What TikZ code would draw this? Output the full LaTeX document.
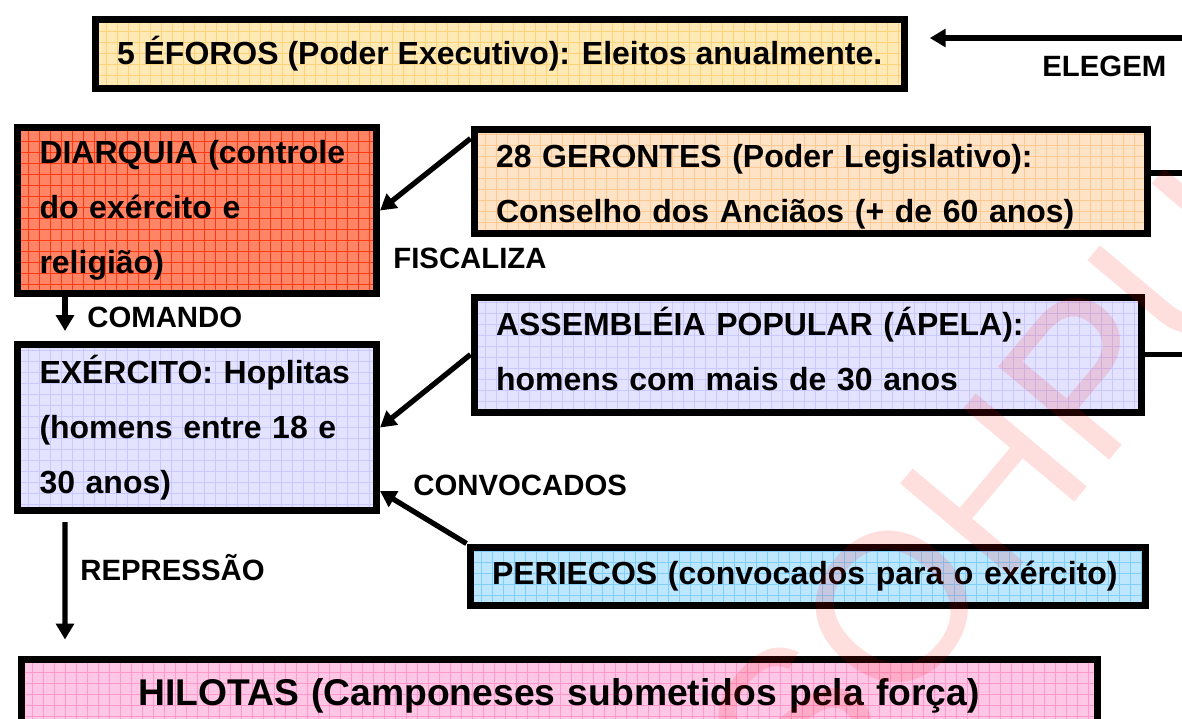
\documentclass[tikz,border=0pt]{standalone}
\usepackage{fontspec}
\setmainfont{Liberation Sans}
\usetikzlibrary{arrows.meta, positioning, calc}

\newdimen\px \px=0.02cm

\definecolor{eforosfill}{HTML}{FFE9B5}
\definecolor{eforosgrid}{HTML}{FFD27A}
\definecolor{diarqfill}{HTML}{FF8566}
\definecolor{diarqgrid}{HTML}{FF3A10}
\definecolor{gerontfill}{HTML}{FFE3C6}
\definecolor{gerontgrid}{HTML}{FFC890}
\definecolor{lilacfill}{HTML}{E3E3FF}
\definecolor{lilacgrid}{HTML}{C9C9FF}
\definecolor{perifill}{HTML}{BDE6FF}
\definecolor{perigrid}{HTML}{80CFFF}
\definecolor{hilotfill}{HTML}{FFC6E6}
\definecolor{hilotgrid}{HTML}{FF99CC}

\begin{document}
\begin{tikzpicture}[
  x=0.02cm, y=-0.02cm,
  % --- styles ------------------------------------------------------------
  box/.style={
    rectangle, draw, line width=4pt, anchor=north west,
    inner xsep=22\px, inner ysep=0pt, align=left,
    font=\bfseries\fontsize{18.2}{31.3}\selectfont
  },
  gridfill/.style 2 args={
    fill=#1,
    path picture={\draw[#2, line width=0.5pt]
      (path picture bounding box.south west) grid[step=11\px]
      (path picture bounding box.north east);}
  },
  lbl/.style={font=\bfseries\fontsize{16.7}{20}\selectfont, anchor=base west, inner sep=0pt},
  flow/.style={-{Triangle[length=9pt, width=10pt]}, line width=3pt},
  link/.style={line width=3pt},
  stamp/.style={text=red, opacity=0.13, rotate=50, font=\fontsize{120}{120}\selectfont}
]
\useasboundingbox (0,0) rectangle (1182,718);

% --------------------- top ---------------------------------------------
\node[box, gridfill={eforosfill}{eforosgrid}, minimum width=808\px, minimum height=69\px, align=center]
  (eforos) at (91.5,15.5) {5 ÉFOROS (Poder Executivo): Eleitos anualmente.};

% --------------------- left column -------------------------------------
\node[box, gridfill={diarqfill}{diarqgrid}, minimum width=359\px, minimum height=166\px, text width=315\px]
  (diarq) at (14,124) {DIARQUIA (controle\\do exército e\\religião)};
\node[box, gridfill={lilacfill}{lilacgrid}, minimum width=359\px, minimum height=166\px, text width=315\px]
  (exerc) at (14,341) {EXÉRCITO: Hoplitas\\(homens entre 18 e\\30 anos)};

% --------------------- right column ------------------------------------
\node[box, gridfill={gerontfill}{gerontgrid}, minimum width=673\px, minimum height=104\px, text width=629\px]
  (geront) at (470.5,125.5) {\rule{0pt}{34\px}28 GERONTES (Poder Legislativo):\\Conselho dos Anciãos (+ de 60 anos)};
\node[box, gridfill={lilacfill}{lilacgrid}, minimum width=667\px, minimum height=115\px, text width=623\px]
  (assem) at (470.5,293.5) {ASSEMBLÉIA POPULAR (ÁPELA):\\homens com mais de 30 anos\rule[-12\px]{0pt}{0pt}};
\node[box, gridfill={perifill}{perigrid}, minimum width=675\px, minimum height=58\px, text width=631\px]
  (peri) at (466.5,543.5) {PERIECOS (convocados para o exército)};

% --------------------- bottom ------------------------------------------
\node[box, gridfill={hilotfill}{hilotgrid}, minimum width=1076\px, minimum height=73\px, text width=1032\px,
  align=center, font=\bfseries\fontsize{21.2}{25}\selectfont]
  (hilot) at (17.5,655.5) {HILOTAS (Camponeses submetidos pela força)};

% --------------------- connectors --------------------------------------
\coordinate (edgeR) at (1182,38);
\draw[flow, shorten >=22\px] (edgeR) -- (eforos.east |- edgeR);
\node[lbl] (elegem) at (1042,76) {ELEGEM};

\coordinate (gerR) at (1182,173);
\draw[link] (geront.east |- gerR) -- (gerR);
\draw[link] (assem.east) -- (assem.east -| edgeR);

\draw[flow] ($(geront.north west)+(0,13)$) -- (diarq.east);
\node[lbl] (fiscaliza) at (393,268) {FISCALIZA};

\draw[flow] ($(diarq.south west)+(51,0)$) -- ($(exerc.north west)+(51,-10)$);
\node[lbl] (comando) at (87,327) {COMANDO};

\draw[flow] (assem.west) -- (exerc.east);

\draw[flow] (peri.north west) -- ($(exerc.south east)+(0,-23)$);
\node[lbl] (convocados) at (413,495) {CONVOCADOS};

\draw[flow] ($(exerc.south west)+(51,8)$) -- ($(hilot.north west)+(47.5,-16)$);
\node[lbl] (repressao) at (80,580) {REPRESSÃO};

% --------------------- watermark ---------------------------------------
\node[stamp] (wmark) at (990,490) {SOHPU};

\end{tikzpicture}
\end{document}
